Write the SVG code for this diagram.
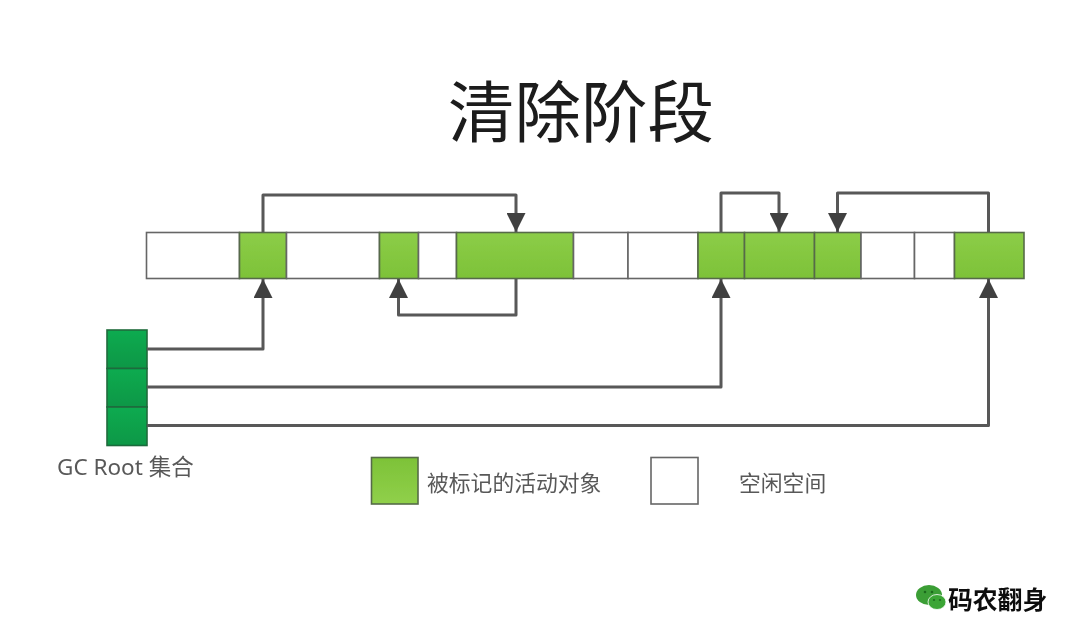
<svg xmlns="http://www.w3.org/2000/svg" width="1080" height="627" viewBox="0 0 1080 627">
<style>
text{font-family:"Noto Sans","Noto Sans CJK SC",sans-serif}
.g{fill:url(#lg);stroke:#566b48;stroke-width:1.6}
.k{fill:url(#lk);stroke:#566b48;stroke-width:1.6}
.w{fill:#fff;stroke:#666;stroke-width:1.6}
.r{fill:url(#dg);stroke:#1f6b3c;stroke-width:1.6}
.c{fill:none;stroke:#595959;stroke-width:3;stroke-linejoin:round}
.l{fill:#595959;font-size:21.8px}
</style>
<defs>
<linearGradient id="lg" x1="0" y1="0" x2="0" y2="1"><stop offset="0" stop-color="#8ccd48"/><stop offset="1" stop-color="#7dc238"/></linearGradient>
<linearGradient id="lk" x1="0" y1="0" x2="0" y2="1"><stop offset="0" stop-color="#7dc238"/><stop offset="1" stop-color="#90d04a"/></linearGradient>
<linearGradient id="dg" x1="0" y1="0" x2="0" y2="1"><stop offset="0" stop-color="#0bab50"/><stop offset="1" stop-color="#0a9746"/></linearGradient>
<marker id="a" markerUnits="userSpaceOnUse" markerWidth="19" markerHeight="19" refX="19" refY="9.500" orient="auto"><path d="M0 0L19 9.500L0 19Z" fill="#404040"/></marker>
<filter id="soft" x="0" y="0" width="100%" height="100%"><feGaussianBlur stdDeviation="0.45"/></filter>
</defs>
<rect width="1080" height="627" fill="#fff"/>
<g filter="url(#soft)">
<g id="title"><text x="581" y="137" font-size="66.500" text-anchor="middle" fill="#1a1a1a">清除阶段</text></g>
<g id="heap">
<rect class="w" x="146.500" y="232.500" width="93" height="46"/>
<rect class="g" x="239.500" y="232.500" width="47" height="46"/>
<rect class="w" x="286.500" y="232.500" width="93" height="46"/>
<rect class="g" x="379.500" y="232.500" width="39" height="46"/>
<rect class="w" x="418.500" y="232.500" width="38" height="46"/>
<rect class="g" x="456.500" y="232.500" width="117" height="46"/>
<rect class="w" x="573.500" y="232.500" width="54.500" height="46"/>
<rect class="w" x="628" y="232.500" width="70" height="46"/>
<rect class="g" x="698" y="232.500" width="46.500" height="46"/>
<rect class="g" x="744.500" y="232.500" width="70" height="46"/>
<rect class="g" x="814.500" y="232.500" width="46.500" height="46"/>
<rect class="w" x="861" y="232.500" width="53.500" height="46"/>
<rect class="w" x="914.500" y="232.500" width="40" height="46"/>
<rect class="g" x="954.500" y="232.500" width="69.500" height="46"/>
</g>
<g id="gc-root">
<rect class="r" x="107" y="330" width="40" height="38.500"/>
<rect class="r" x="107" y="368.500" width="40" height="38.500"/>
<rect class="r" x="107" y="407" width="40" height="38.500"/>
<text x="57" y="475" font-size="22.500" fill="#595959">GC Root 集合</text>
</g>
<g id="connectors">
<path class="c" marker-end="url(#a)" d="M263 232V195H516V232"/>
<path class="c" marker-end="url(#a)" d="M516 279V315H398.500V279"/>
<path class="c" marker-end="url(#a)" d="M721 232V193H779V232"/>
<path class="c" marker-end="url(#a)" d="M988.500 232V193H837.500V232"/>
<path class="c" marker-end="url(#a)" d="M147 349H263V279"/>
<path class="c" marker-end="url(#a)" d="M147 387H721V279"/>
<path class="c" marker-end="url(#a)" d="M147 425.500H988.500V279"/>
</g>
<g id="legend-marked">
<rect class="k" x="371.500" y="457.500" width="46.500" height="46.500"/>
<text class="l" x="427" y="491">被标记的活动对象</text>
</g>
<g id="legend-free">
<rect class="w" x="651" y="457.500" width="47" height="46.500"/>
<text class="l" x="739" y="491">空闲空间</text>
</g>
<g id="logo">
<ellipse cx="929" cy="595" rx="13" ry="10" fill="#3a9e35"/>
<ellipse cx="937" cy="602" rx="9" ry="7.500" fill="#3aa535" stroke="#fff" stroke-width="0.800"/>
<circle cx="925" cy="592" r="1.300" fill="#1f6b1d"/><circle cx="932" cy="592" r="1.300" fill="#1f6b1d"/>
<circle cx="934" cy="600" r="1.100" fill="#1f6b1d"/><circle cx="940" cy="600" r="1.100" fill="#1f6b1d"/>
<text x="948" y="609" font-size="24.800" font-weight="700" fill="#111">码农翻身</text>
</g>
</g>
</svg>
